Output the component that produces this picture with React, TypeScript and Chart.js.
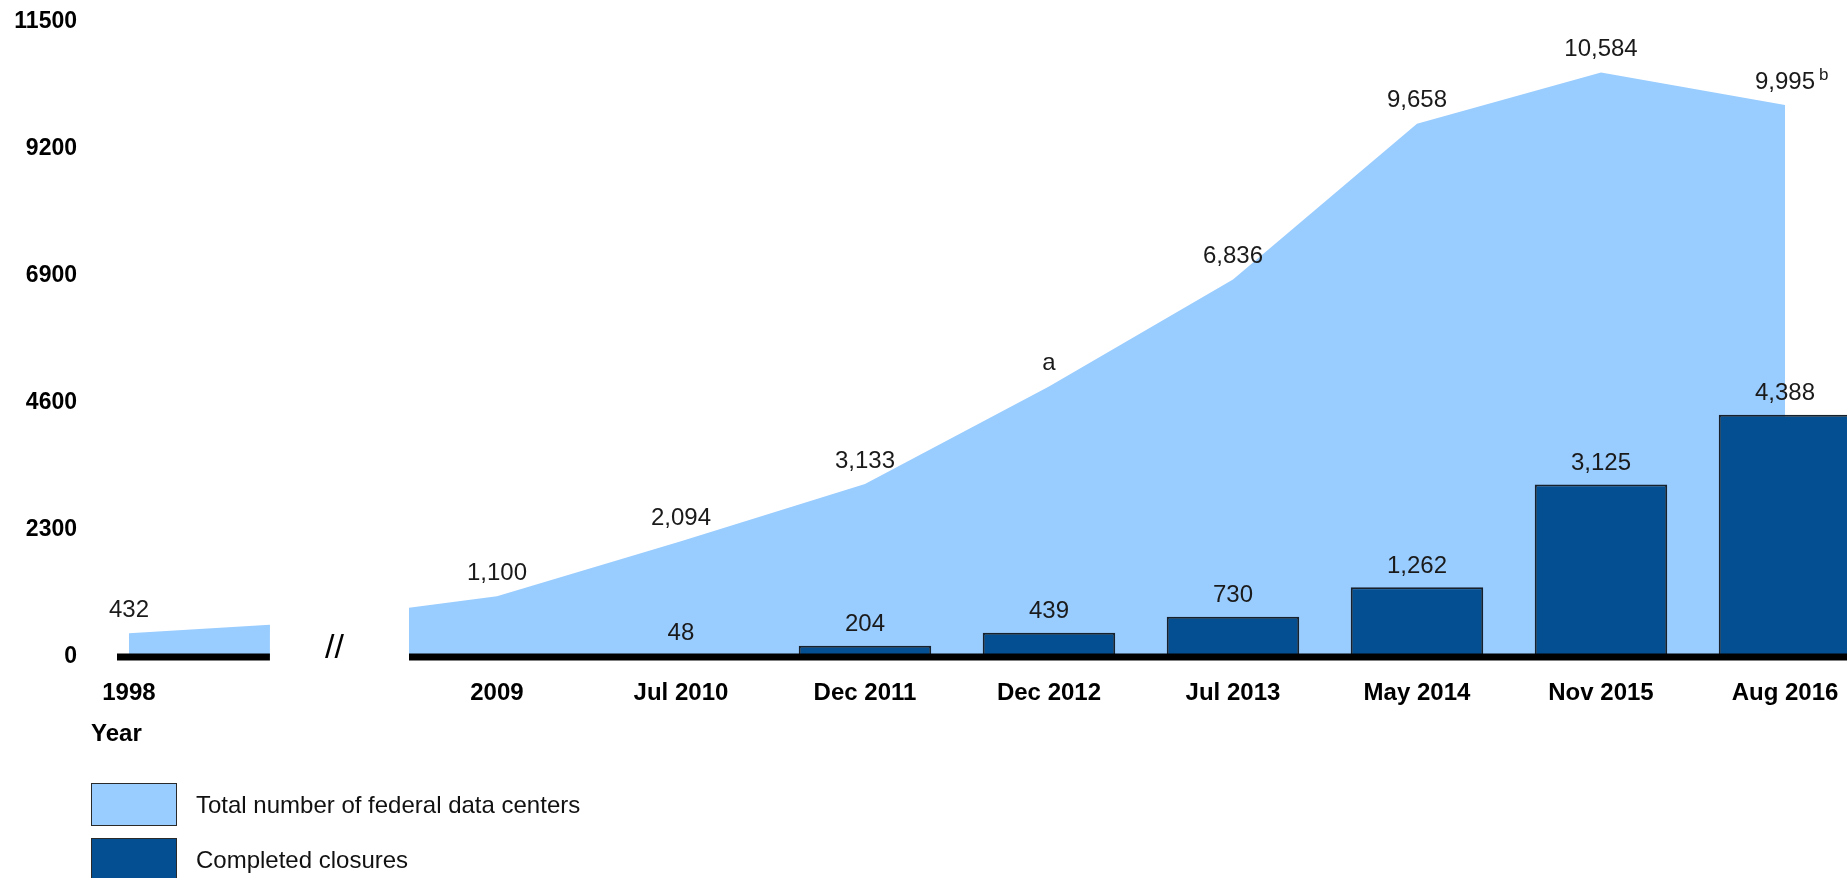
import React, { useEffect, useRef } from "react";
import { Chart, registerables } from "chart.js";

Chart.register(...registerables);

// ---- data -------------------------------------------------------------
const xLabels = ["1998", "", "2009", "Jul 2010", "Dec 2011", "Dec 2012", "Jul 2013", "May 2014", "Nov 2015", "Aug 2016"];
const tickSlots = [0, 2, 3, 4, 5, 6, 7, 8, 9];
const yStep = 2300;
const yMax = 11500;

const totalSlots = [0, 2, 3, 4, 5, 6, 7, 8, 9];
const totalValues = [432, 1100, 2094, 3133, 4900, 6836, 9658, 10584, 9995];
const totalLabels = ["432", "1,100", "2,094", "3,133", "a", "6,836", "9,658", "10,584", "9,995"];
const totalNotes = ["", "", "", "", "", "", "", "", "b"];

// edges of the axis break ("//") between 1998 and 2009
const breakSlots = [0.766, 1.522];
const breakValues = [583, 893];

const closureSlots = [3, 4, 5, 6, 7, 8, 9];
const closureValues = [48, 204, 439, 730, 1262, 3125, 4388];
const closureLabels = ["48", "204", "439", "730", "1,262", "3,125", "4,388"];

const seriesNames = ["Total number of federal data centers", "Completed closures"];

// ---- style ------------------------------------------------------------
const FONT = '"Liberation Sans", Arial, Helvetica, sans-serif';
const LIGHT = "#99CCFF";
const DARK = "#044F91";

const W = 1847;
const H = 878;

export default function App() {
  const ref = useRef<HTMLCanvasElement | null>(null);

  useEffect(() => {
    const canvas = ref.current;
    if (!canvas) return;

    const areaData: any[] = [
      { x: totalSlots[0], y: totalValues[0] },
      { x: breakSlots[0], y: breakValues[0] },
      { x: (breakSlots[0] + breakSlots[1]) / 2, y: null },
      { x: breakSlots[1], y: breakValues[1] },
      ...totalSlots.slice(1).map((s, i) => ({ x: s, y: totalValues[i + 1] })),
    ];
    const barData = closureSlots.map((s, i) => ({ x: s, y: closureValues[i] }));

    const overlay = {
      id: "overlay",
      afterDatasetsDraw(chart: any) {
        const { ctx } = chart;
        const xs = chart.scales.x;
        const ys = chart.scales.y;
        const y0 = ys.getPixelForValue(0);
        const gapL = xs.getPixelForValue(breakSlots[0]);
        const gapR = xs.getPixelForValue(breakSlots[1]);
        const startX = xs.getPixelForValue(-0.065);
        ctx.save();
        // baseline with break
        ctx.fillStyle = "#000";
        ctx.fillRect(startX, y0 - 3.5, gapL - startX, 7);
        ctx.fillRect(gapR, y0 - 3.5, W - gapR, 7);
        // break marker
        ctx.font = `34px ${FONT}`;
        ctx.textAlign = "center";
        ctx.textBaseline = "middle";
        ctx.fillText("//", (gapL + gapR) / 2 - 5, y0 - 8);

        // value labels
        ctx.fillStyle = "#1a1a1a";
        totalSlots.forEach((s, i) => {
          const px = xs.getPixelForValue(s);
          const py = ys.getPixelForValue(totalValues[i]) - 23;
          ctx.font = `24px ${FONT}`;
          ctx.textAlign = "center";
          ctx.fillText(totalLabels[i], px, py);
          if (totalNotes[i]) {
            const w = ctx.measureText(totalLabels[i]).width;
            ctx.font = `17px ${FONT}`;
            ctx.textAlign = "left";
            ctx.fillText(totalNotes[i], px + w / 2 + 4, py - 7);
          }
        });
        ctx.font = `24px ${FONT}`;
        ctx.textAlign = "center";
        closureSlots.forEach((s, i) => {
          const px = xs.getPixelForValue(s);
          const py = ys.getPixelForValue(closureValues[i]) - 21;
          ctx.fillText(closureLabels[i], px, py);
        });
        ctx.restore();
      },
    };

    const chart = new Chart(canvas, {
      type: "bar",
      data: {
        datasets: [
          {
            type: "bar",
            label: seriesNames[1],
            data: barData,
            backgroundColor: DARK,
            borderColor: "#17212c",
            borderWidth: 2,
            barPercentage: 0.72,
            categoryPercentage: 1,
            order: 0,
          } as any,
          {
            type: "line",
            label: seriesNames[0],
            data: areaData,
            backgroundColor: LIGHT,
            borderColor: "rgba(0,0,0,0)",
            borderWidth: 0,
            fill: "origin",
            pointRadius: 0,
            tension: 0,
            spanGaps: false,
            order: 1,
          } as any,
        ],
      },
      options: {
        animation: false,
        responsive: false,
        devicePixelRatio: 1,
        layout: { padding: { top: 22, left: 0, right: 0, bottom: 0 } },
        plugins: {
          legend: { display: false },
          tooltip: { enabled: false },
        },
        scales: {
          x: {
            type: "linear",
            min: -0.065,
            max: 9.337,
            bounds: "data",
            offset: false,
            grid: { display: false, drawTicks: false },
            border: { display: false },
            ticks: {
              autoSkip: false,
              maxRotation: 0,
              padding: 22,
              color: "#000",
              font: { family: FONT, size: 24, weight: "bold" },
              callback: (v: any) => xLabels[v] ?? "",
            },
            afterBuildTicks: (s: any) => {
              s.ticks = tickSlots.map((v) => ({ value: v }));
            },
            afterFit: (s: any) => {
              s.height = 221;
              s.paddingLeft = 0;
              s.paddingRight = 0;
            },
          } as any,
          y: {
            type: "linear",
            min: 0,
            max: yMax,
            grid: { display: false, drawTicks: false },
            border: { display: false },
            ticks: {
              stepSize: yStep,
              padding: 40,
              color: "#000",
              font: { family: FONT, size: 23, weight: "bold" },
              callback: (v: any) => String(v),
            },
            afterFit: (s: any) => {
              s.width = 117;
              s.paddingTop = 0;
              s.paddingBottom = 0;
            },
          } as any,
        },
      },
      plugins: [overlay],
    });

    return () => chart.destroy();
  }, []);

  const textBase: React.CSSProperties = {
    position: "absolute",
    fontFamily: FONT,
    whiteSpace: "nowrap",
    lineHeight: "30px",
    height: 30,
  };

  return (
    <div
      style={{
        position: "fixed",
        left: 0,
        top: 0,
        width: W,
        height: H,
        background: "#fff",
        overflow: "hidden",
      }}
    >
      <canvas ref={ref} width={W} height={H} style={{ display: "block", width: W, height: H }} />
      <div style={{ ...textBase, left: 91, top: 733 - 15, fontSize: 24, fontWeight: "bold", color: "#000" }}>Year</div>
      <div
        style={{
          position: "absolute",
          left: 91,
          top: 783,
          width: 86,
          height: 43,
          boxSizing: "border-box",
          background: LIGHT,
          border: "1.5px solid #2a2a2a",
        }}
      />
      <div style={{ ...textBase, left: 196, top: 805 - 15, fontSize: 24, color: "#111" }}>{seriesNames[0]}</div>
      <div
        style={{
          position: "absolute",
          left: 91,
          top: 838,
          width: 86,
          height: 43,
          boxSizing: "border-box",
          background: DARK,
          border: "1.5px solid #2a2a2a",
        }}
      />
      <div style={{ ...textBase, left: 196, top: 860 - 15, fontSize: 24, color: "#111" }}>{seriesNames[1]}</div>
    </div>
  );
}
